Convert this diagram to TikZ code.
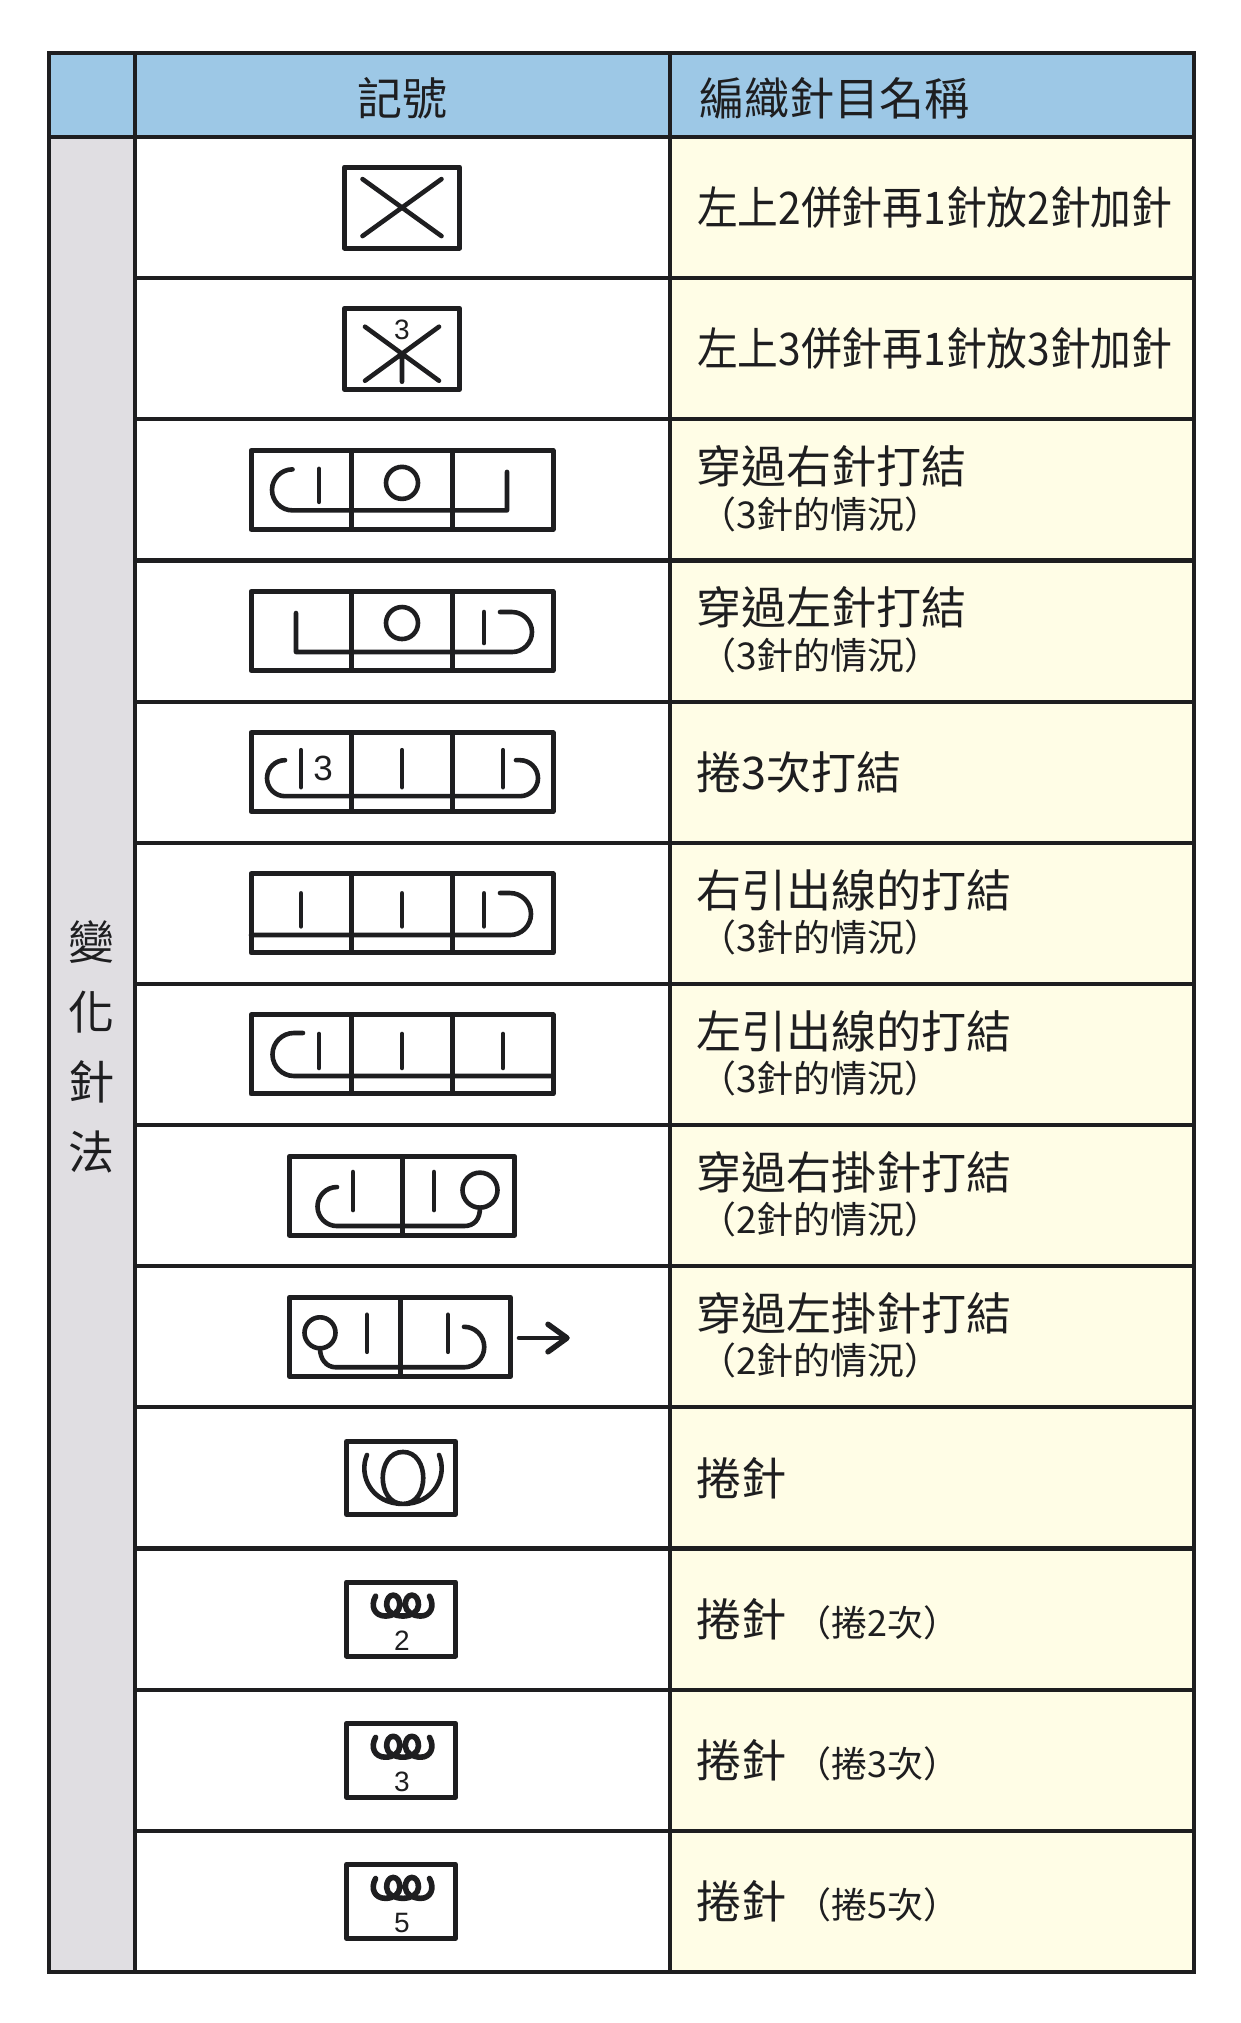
\documentclass[tikz,border=0pt]{standalone}
\usepackage{fontspec}
\usepackage{graphicx}
\newfontfamily\cjk{Noto Sans CJK TC}
\newfontfamily\hv{Liberation Sans}
\definecolor{hdrblue}{RGB}{157,200,230}
\definecolor{lgray}{RGB}{224,222,226}
\definecolor{cream}{RGB}{255,253,230}
\definecolor{ink}{RGB}{30,30,32}
\begin{document}
\begin{tikzpicture}[x=1pt,y=-1pt,
  tline/.style={draw=ink,line width=4.2},
  symbox/.style={draw=ink,line width=5,line join=round},
  symline/.style={draw=ink,line width=4.6,line cap=round,line join=round},
  maintxt/.style={anchor=west,inner sep=0pt,text=ink,font=\cjk\fontsize{45}{50}\selectfont},
  subtxt/.style={anchor=west,inner sep=0pt,text=ink,font=\cjk\fontsize{37}{42}\selectfont},
  hdrtxt/.style={inner sep=0pt,text=ink,font=\cjk\fontsize{45}{50}\selectfont},
  coltxt/.style={inner sep=0pt,text=ink,font=\cjk\fontsize{46}{50}\selectfont},
  digit/.style={inner sep=0pt,text=ink,font=\hv\fontsize{#1}{#1}\selectfont}]
\useasboundingbox (0,0) rectangle (1241,2023);
\fill[white] (0,0) rectangle (1241,2023);
% fills
\fill[hdrblue] (49,53) rectangle (1194,137);
\fill[lgray] (49,137) rectangle (135,1972);
\fill[cream] (670,137) rectangle (1194,1972);
% grid
\foreach \k in {1,...,12} \draw[tline] (135,{137+\k*141.15}) -- (1194,{137+\k*141.15});
\draw[tline] (135,53) -- (135,1972);
\draw[tline] (670,53) -- (670,1972);
\draw[tline] (49,137) -- (1194,137);
\draw[tline] (49,53) rectangle (1194,1972);
% header
\node[hdrtxt] (h1) at (402.5,98) {記號};
\node[hdrtxt,anchor=west] (h2) at (699,98) {編織針目名稱};
% left column
\node[coltxt] (c1) at (91,942) {變};
\node[coltxt] (c2) at (91,1012) {化};
\node[coltxt] (c3) at (91,1082) {針};
\node[coltxt] (c4) at (91,1152) {法};

% row 1
\begin{scope}[shift={(402,207.58)}]
\draw[symbox] (-57.5,-40.5) rectangle (57.5,40.5);
\draw[symline] (-39.5,-28.5) -- (39.5,28.5) (39.5,-28.5) -- (-39.5,28.5);
\end{scope}
\node[maintxt] (t1) at (697,207.58) {\scalebox{0.905}[1]{左上2併針再1針放2針加針}};

% row 2
\begin{scope}[shift={(402,348.73)}]
\draw[symbox] (-57.5,-40.5) rectangle (57.5,40.5);
\draw[symline] (-37,-22) -- (37,32) (37,-22) -- (-37,32) (0,5) -- (0,33);
\node[digit=28] (d2) at (0,-19) {3};
\end{scope}
\node[maintxt] (t2) at (697,348.73) {\scalebox{0.905}[1]{左上3併針再1針放3針加針}};

% row 3
\begin{scope}[shift={(402,489.88)}]
\draw[symbox] (-151,-39.5) rectangle (151,39.5);
\draw[symbox] (-50.5,-39.5) -- (-50.5,39.5) (50.5,-39.5) -- (50.5,39.5);
\draw[symline] (105,-18) -- (105,20.5) -- (-109.5,20.5) arc[start angle=90,end angle=270,radius=20.5];
\draw[symline] (-83,-21) -- (-83,12);
\draw[symline] (0,-7) circle[radius=16];
\end{scope}
\node[maintxt] (t3) at (696,466.5) {穿過右針打結};
\node[subtxt] (s3) at (699,514) {（3針的情況）};

% row 4
\begin{scope}[shift={(402,631.03)}]
\draw[symbox] (-151,-39.5) rectangle (151,39.5);
\draw[symbox] (-50.5,-39.5) -- (-50.5,39.5) (50.5,-39.5) -- (50.5,39.5);
\draw[symline] (-106,-18) -- (-106,21) -- (110,21) arc[start angle=90,end angle=-90,radius=20] -- (98,-19);
\draw[symline] (82,-19) -- (82,12);
\draw[symline] (0,-8) circle[radius=16];
\end{scope}
\node[maintxt] (t4) at (696,607.6) {穿過左針打結};
\node[subtxt] (s4) at (699,655) {（3針的情況）};

% row 5
\begin{scope}[shift={(402,772.18)}]
\draw[symbox] (-151,-39.5) rectangle (151,39.5);
\draw[symbox] (-50.5,-39.5) -- (-50.5,39.5) (50.5,-39.5) -- (50.5,39.5);
\draw[symline] (-117,-12) arc[start angle=270,end angle=90,radius=18] -- (118,24) arc[start angle=90,end angle=-90,radius=18] -- (114,-12);
\draw[symline] (-101,-22) -- (-101,15) (0,-22) -- (0,15) (101,-22) -- (101,15);
\node[digit=35] (d5) at (-79,-4) {3};
\end{scope}
\node[maintxt] (t5) at (696,772.18) {捲3次打結};

% row 6
\begin{scope}[shift={(402,913.33)}]
\draw[symbox] (-151,-39.5) rectangle (151,39.5);
\draw[symbox] (-50.5,-39.5) -- (-50.5,39.5) (50.5,-39.5) -- (50.5,39.5);
\draw[symline] (-151,21.7) -- (108,21.7) arc[start angle=90,end angle=-90,radius=21] -- (98,-20.3);
\draw[symline] (-101,-20) -- (-101,13) (0,-20) -- (0,13) (82,-20) -- (82,13);
\end{scope}
\node[maintxt] (t6) at (696,890.5) {右引出線的打結};
\node[subtxt] (s6) at (699,937.5) {（3針的情況）};

% row 7
\begin{scope}[shift={(402,1054.48)}]
\draw[symbox] (-151,-39.5) rectangle (151,39.5);
\draw[symbox] (-50.5,-39.5) -- (-50.5,39.5) (50.5,-39.5) -- (50.5,39.5);
\draw[symline] (151,21.5) -- (-108,21.5) arc[start angle=90,end angle=270,radius=21.5] -- (-99,-21.5);
\draw[symline] (-83,-20.5) -- (-83,13.5) (0,-20.5) -- (0,13.5) (101,-20.5) -- (101,13.5);
\end{scope}
\node[maintxt] (t7) at (696,1031.5) {左引出線的打結};
\node[subtxt] (s7) at (699,1078.5) {（3針的情況）};

% row 8
\begin{scope}[shift={(402,1195.63)}]
\draw[symbox] (-112.5,-39.5) rectangle (112.5,39.5);
\draw[symbox] (0,-39.5) -- (0,39.5);
\draw[symline] (-65,-8.6) arc[start angle=270,end angle=90,radius=19.5] -- (62,30.4) .. controls (72,30.4) and (78,24) .. (78,12);
\draw[symline] (78,-5.5) circle[radius=17.5];
\draw[symline] (-49,-23.6) -- (-49,14.4) (32,-23.6) -- (32,14.4);
\end{scope}
\node[maintxt] (t8) at (696,1172.5) {穿過右掛針打結};
\node[subtxt] (s8) at (699,1219.5) {（2針的情況）};

% row 9
\begin{scope}[shift={(402,1336.78)}]
\draw[symbox] (-112.5,-39.5) rectangle (108.5,39.5);
\draw[symbox] (-2,-39.5) -- (-2,39.5);
\draw[symline] (-82,-4) circle[radius=15.5];
\draw[symline] (-82,11.5) .. controls (-82,22) and (-76,30.5) .. (-66,30.5) -- (62,30.5) arc[start angle=90,end angle=-90,radius=20.25];
\draw[symline] (-35,-22) -- (-35,15) (46,-22) -- (46,15);
\draw[symline] (117,1.2) -- (163,1.2);
\draw[symline,line width=5.5] (146,-12.5) -- (165,1.2) -- (146,15);
\end{scope}
\node[maintxt] (t9) at (696,1313.5) {穿過左掛針打結};
\node[subtxt] (s9) at (699,1360.5) {（2針的情況）};

% row 10
\begin{scope}[shift={(402,1477.93)}]
\draw[symbox] (-55.5,-36.5) rectangle (53.5,36.5);
\draw[symline] (-35,-23) .. controls (-44,-2) and (-30,26) .. (1,26) .. controls (28,26) and (28,-26) .. (1,-26) .. controls (-26,-26) and (-26,26) .. (1,26) .. controls (32,26) and (46,-2) .. (37,-23);
\end{scope}
\node[maintxt] (t10) at (696,1477.93) {捲針};

% rows 11-13
\foreach \cy/\n in {1619.08/2,1760.23/3,1901.38/5}{
\begin{scope}[shift={(402,\cy)}]
\draw[symbox] (-55.5,-37) rectangle (53.5,37);
\begin{scope}[shift={(0,-13.5)},scale=1.1,shift={(0,13.5)}]
\draw[symline,line width=5.6] (-24,-22) .. controls (-29,-13) and (-25,-4) .. (-15,-4)
  .. controls (-8,-4) and (-2,-8) .. (-2,-14) .. controls (-2,-19.5) and (-4.5,-23) .. (-8,-23)
  .. controls (-11.5,-23) and (-14,-19.5) .. (-14,-14) .. controls (-14,-8) and (-7,-4) .. (1,-4)
  .. controls (8,-4) and (15,-8) .. (15,-14) .. controls (15,-19.5) and (12.5,-23) .. (9,-23)
  .. controls (5.5,-23) and (3,-19.5) .. (3,-14) .. controls (3,-8) and (10,-4) .. (17,-4)
  .. controls (26,-4) and (30,-13) .. (25,-22);
\end{scope}
\node[digit=28] (dn\n) at (0,21.5) {\n};
\end{scope}
\node[maintxt] (tn\n) at (696,\cy) {捲針\hspace{9pt}{\fontsize{36}{40}\selectfont （捲\n 次）}};
}
\end{tikzpicture}
\end{document}
